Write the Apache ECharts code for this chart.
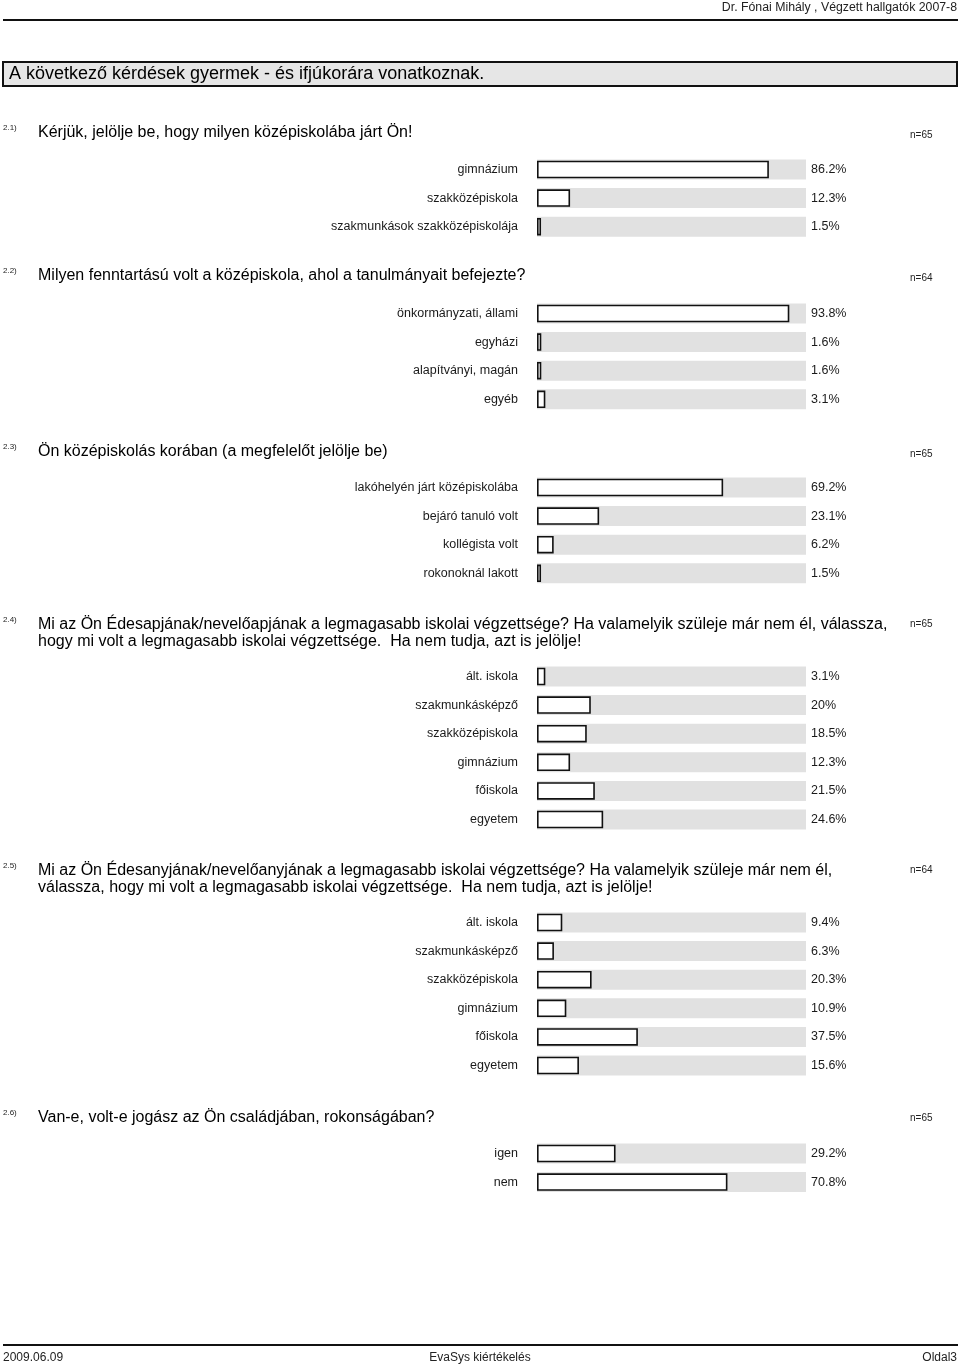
<!DOCTYPE html>
<html>
<head>
<meta charset="utf-8">
<script src="https://cdn.jsdelivr.net/npm/echarts@6/dist/echarts.min.js"></script>
<style>
html,body{margin:0;padding:0;background:#fff;}
#chart{width:960px;height:1368px;}
</style>
</head>
<body>
<div id="chart"></div>
<script>
// ---- data ----
const q21Labels = ['gimnázium', 'szakközépiskola', 'szakmunkások szakközépiskolája'];
const q21Values = [86.2, 12.3, 1.5];
const q22Labels = ['önkormányzati, állami', 'egyházi', 'alapítványi, magán', 'egyéb'];
const q22Values = [93.8, 1.6, 1.6, 3.1];
const q23Labels = ['lakóhelyén járt középiskolába', 'bejáró tanuló volt', 'kollégista volt', 'rokonoknál lakott'];
const q23Values = [69.2, 23.1, 6.2, 1.5];
const q24Labels = ['ált. iskola', 'szakmunkásképző', 'szakközépiskola', 'gimnázium', 'főiskola', 'egyetem'];
const q24Values = [3.1, 20, 18.5, 12.3, 21.5, 24.6];
const q25Labels = ['ált. iskola', 'szakmunkásképző', 'szakközépiskola', 'gimnázium', 'főiskola', 'egyetem'];
const q25Values = [9.4, 6.3, 20.3, 10.9, 37.5, 15.6];
const q26Labels = ['igen', 'nem'];
const q26Values = [29.2, 70.8];

const questionNumbers = ['2.1)', '2.2)', '2.3)', '2.4)', '2.5)', '2.6)'];
const questionTexts = [
  'Kérjük, jelölje be, hogy milyen középiskolába járt Ön!',
  'Milyen fenntartású volt a középiskola, ahol a tanulmányait befejezte?',
  'Ön középiskolás korában (a megfelelőt jelölje be)',
  'Mi az Ön Édesapjának/nevelőapjának a legmagasabb iskolai végzettsége? Ha valamelyik szüleje már nem él, válassza,\nhogy mi volt a legmagasabb iskolai végzettsége.  Ha nem tudja, azt is jelölje!',
  'Mi az Ön Édesanyjának/nevelőanyjának a legmagasabb iskolai végzettsége? Ha valamelyik szüleje már nem él,\nválassza, hogy mi volt a legmagasabb iskolai végzettsége.  Ha nem tudja, azt is jelölje!',
  'Van-e, volt-e jogász az Ön családjában, rokonságában?'
];
const questionN = ['n=65', 'n=64', 'n=65', 'n=65', 'n=64', 'n=65'];

const headerText = 'Dr. Fónai Mihály , Végzett hallgatók 2007-8';
const sectionTitle = 'A következő kérdések gyermek - és ifjúkorára vonatkoznak.';
const footerLeft = '2009.06.09';
const footerCenter = 'EvaSys kiértékelés';
const footerRight = 'Oldal3';

// ---- layout ----
const allLabels = [q21Labels, q22Labels, q23Labels, q24Labels, q25Labels, q26Labels];
const allValues = [q21Values, q22Values, q23Values, q24Values, q25Values, q26Values];
const questionTop = [124, 267, 443, 616, 862, 1109];
const numY = [128, 271, 447, 620, 866, 1113];
const nY = [135, 278, 454, 624, 870, 1118];
const firstRowY = [169.5, 313.5, 487.5, 676.5, 922.5, 1153.5];
const ROW = 28.6;
const FONT = '"Liberation Sans", Arial, sans-serif';

function fmt(v) { return (Number.isInteger(v) ? v : v.toFixed(1)) + '%'; }

const grids = [], xAxes = [], yAxes = [], series = [];
allLabels.forEach((labels, i) => {
  const vals = allValues[i];
  grids.push({ left: 537, right: 154, top: firstRowY[i] - ROW / 2, height: labels.length * ROW, containLabel: false });
  xAxes.push({ gridIndex: i, type: 'value', min: 0, max: 100, show: false });
  yAxes.push({
    gridIndex: i, type: 'category', inverse: true, data: labels,
    axisLine: { show: false }, axisTick: { show: false },
    axisLabel: { margin: 19, fontSize: 12.5, color: '#1a1a1a', fontFamily: FONT }
  });
  yAxes.push({
    gridIndex: i, type: 'category', inverse: true, position: 'right', data: vals.map(fmt),
    axisLine: { show: false }, axisTick: { show: false },
    axisLabel: { margin: 5, fontSize: 12.5, color: '#1a1a1a', fontFamily: FONT, align: 'left' }
  });
  series.push({
    type: 'bar', xAxisIndex: i, yAxisIndex: 2 * i, barWidth: 20, silent: true,
    data: labels.map(() => 100), itemStyle: { color: '#e1e1e1' }, animation: false, z: 1
  });
  series.push({
    type: 'bar', xAxisIndex: i, yAxisIndex: 2 * i + 1, barWidth: 17.5, silent: true,
    data: vals, itemStyle: { color: '#ffffff', borderColor: '#111', borderWidth: 1.6 }, animation: false, z: 2
  });
});

const graphics = [];
function txt(text, x, y, size, align, vAlign, color, lh) {
  graphics.push({
    type: 'text', x: x, y: y, silent: true,
    style: { text: text, font: size + 'px ' + FONT, fill: color || '#000', textAlign: align || 'left', textVerticalAlign: vAlign || 'middle', lineHeight: lh }
  });
}
// header
txt(headerText, 957, 8, 12.3, 'right', 'middle', '#222');
graphics.push({ type: 'rect', silent: true, shape: { x: 3, y: 19, width: 955, height: 2 }, style: { fill: '#111' } });
// section title box
graphics.push({ type: 'rect', silent: true, shape: { x: 3, y: 62, width: 954, height: 24 }, style: { fill: '#e6e6e6', stroke: '#111', lineWidth: 2 } });
txt(sectionTitle, 9, 74.5, 18, 'left', 'middle', '#000');
// questions
questionTexts.forEach((q, i) => {
  txt(questionNumbers[i], 3, numY[i], 8, 'left', 'middle', '#222');
  txt(q, 38, questionTop[i], 16, 'left', 'top', '#000', 17);
  txt(questionN[i], 910, nY[i], 10, 'left', 'middle', '#222');
});
// footer
graphics.push({ type: 'rect', silent: true, shape: { x: 3, y: 1344, width: 955, height: 2 }, style: { fill: '#111' } });
txt(footerLeft, 3, 1358, 12, 'left', 'middle', '#222');
txt(footerCenter, 480, 1358, 12, 'center', 'middle', '#222');
txt(footerRight, 957, 1358, 12, 'right', 'middle', '#222');

const chart = echarts.init(document.getElementById('chart'), null, { renderer: 'canvas' });
chart.setOption({
  animation: false,
  backgroundColor: '#ffffff',
  grid: grids,
  xAxis: xAxes,
  yAxis: yAxes,
  series: series,
  graphic: graphics
});
</script>
</body>
</html>
